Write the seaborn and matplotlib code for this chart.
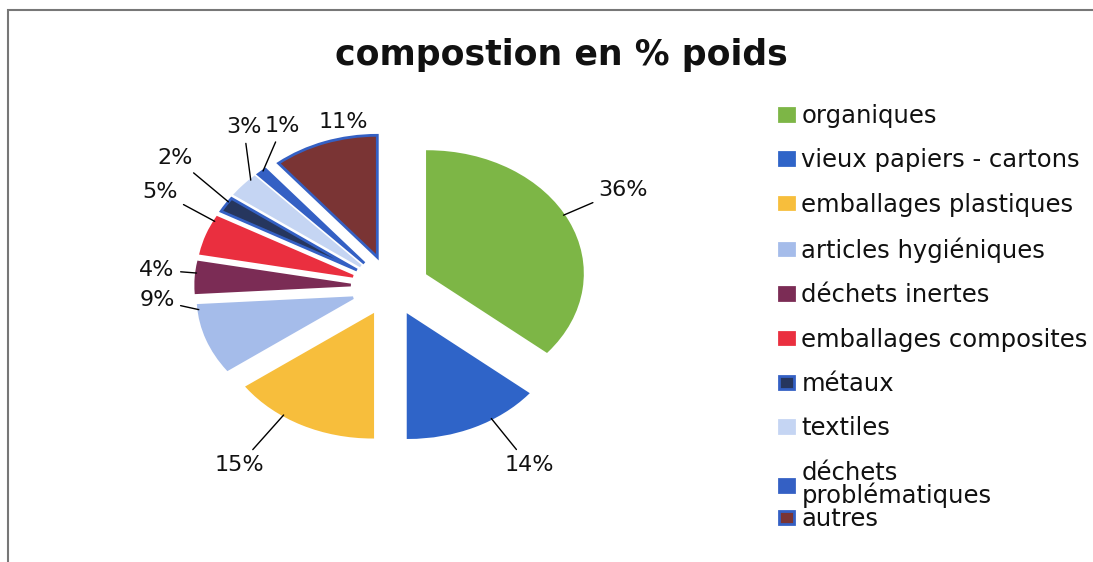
import numpy as np
import matplotlib
matplotlib.use("Agg")
import matplotlib.pyplot as plt
from matplotlib.patches import Rectangle
import seaborn as sns

# ── Data ─────────────────────────────────────────────────────────────
categories = ["organiques", "vieux papiers - cartons", "emballages plastiques",
              "articles hygiéniques", "déchets inertes", "emballages composites",
              "métaux", "textiles", "déchets\nproblématiques", "autres"]
values = [36, 14, 15, 9, 4, 5, 2, 3, 1, 11]
colors = ["#7DB646", "#2F64C8", "#F7BE3C", "#A5BCEA", "#7B2C55",
          "#EA2F3F", "#26365E", "#C5D5F3", "#3460C4", "#7A3434"]
edge_colors = ["#7DB646", "#2F64C8", "#F7BE3C", "#A5BCEA", "#7B2C55",
               "#EA2F3F", "#3460C4", "#C5D5F3", "#3460C4", "#3460C4"]

# label text positions (data coords of the pie axes), leader or not
label_pos = [(1.50, 0.80), (0.89, -1.46), (-0.98, -1.46), (-1.51, -0.11),
             (-1.51, 0.14), (-1.49, 0.78), (-1.39, 1.06), (-0.95, 1.31),
             (-0.70, 1.32), (-0.31, 1.35)]
has_leader = [True] * 9 + [False]

sns.set_theme(style="white")
plt.rcParams["font.family"] = ["DejaVu Sans"]

fig = plt.figure(figsize=(10.93, 5.62), dpi=100)
ax = fig.add_axes([0.1308, 0.1423, 0.4538, 0.694])

wedges, _ = ax.pie(values, colors=colors, startangle=90, counterclock=False,
                   explode=[0.26] * len(values),
                   wedgeprops=dict(linewidth=2))
for w, ec in zip(wedges, edge_colors):
    w.set_edgecolor(ec)

ax.set_aspect("auto")
ax.set_xlim(-1.6, 1.6)
ax.set_ylim(-1.6, 1.6)
ax.axis("off")

# ── Percent labels with leader lines ─────────────────────────────────
for w, v, pos, lead in zip(wedges, values, label_pos, has_leader):
    cx, cy = w.center
    t1, t2 = sorted([w.theta1, w.theta2])
    ang = np.degrees(np.arctan2(pos[1] - cy, pos[0] - cx)) % 360
    # pick the arc angle closest to the label direction
    cands = [a for a in (ang, ang + 360, ang - 360)]
    best = min(cands, key=lambda a: 0 if t1 <= a <= t2 else min(abs(a - t1), abs(a - t2)))
    margin = min(2.0, (t2 - t1) / 3)
    best = np.clip(best, t1 + margin, t2 - margin)
    tip = (cx + w.r * np.cos(np.radians(best)), cy + w.r * np.sin(np.radians(best)))
    kw = {}
    if lead:
        kw["arrowprops"] = dict(arrowstyle="-", color="black", lw=1.0,
                                shrinkA=2, shrinkB=0)
    ax.annotate(f"{v}%", xy=tip, xytext=pos, ha="center", va="center",
                fontsize=16, color="#111111", annotation_clip=False, **kw)

# ── Title, legend, border ────────────────────────────────────────────
fig.text(561 / 1093, 1 - 55 / 562, "compostion en % poids", ha="center",
         va="center", fontsize=25, fontweight="bold", color="#111111")

leg_kw = dict(loc="upper left", frameon=False, fontsize=17.5,
              handlelength=0.62, handleheight=0.42, handletextpad=0.3,
              labelspacing=0.84, borderpad=0, borderaxespad=0)
# wrapped "déchets problématiques" overlaps the next row like in the source,
# so the last entry gets its own legend
leg = fig.legend(wedges[:9], categories[:9],
                 bbox_to_anchor=(779 / 1093, 1 - 104 / 562), **leg_kw)
leg.get_texts()[8].set_linespacing(0.9)
leg2 = fig.legend(wedges[9:], categories[9:],
                  bbox_to_anchor=(779 / 1093, 1 - 507 / 562), **leg_kw)
for t in leg.get_texts() + leg2.get_texts():
    t.set_color("#111111")

fig.add_artist(Rectangle((8 / 1093, -0.05), 1.2, 1 - 10 / 562 + 0.05,
                         transform=fig.transFigure, fill=False,
                         edgecolor="#777777", linewidth=1.5))

fig.savefig("out.png", dpi=100)
